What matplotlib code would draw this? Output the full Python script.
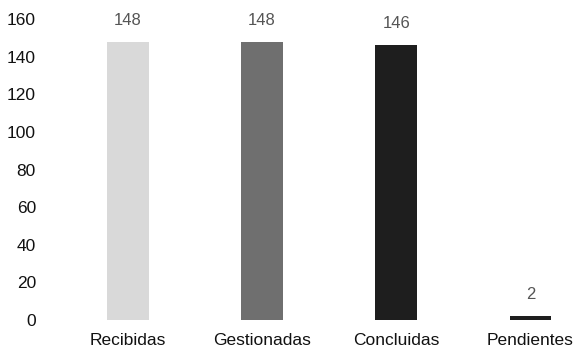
import matplotlib.pyplot as plt

plt.rcParams['font.family'] = ['Liberation Sans', 'DejaVu Sans']

categories = ['Recibidas', 'Gestionadas', 'Concluidas', 'Pendientes']
values = [148, 148, 146, 2]
colors = ['#d9d9d9', '#6f6f6f', '#1e1e1e', '#1e1e1e']
yticks = [0, 20, 40, 60, 80, 100, 120, 140, 160]


def main():
    fig = plt.figure(figsize=(5.84, 3.56), dpi=100)
    ax = fig.add_axes([0.0925, 0.101, 0.9075, 0.8456])
    x = range(len(categories))
    bars = ax.bar(x, values, width=0.31, color=colors)

    for b, v in zip(bars, values):
        ax.annotate(str(v), (b.get_x() + b.get_width() / 2, v),
                    xytext=(0, 10), textcoords='offset points',
                    ha='center', va='bottom', fontsize=12, color='#555555')

    ax.set_xlim(-0.55, 3.4)
    ax.set_ylim(0, 160)
    ax.set_yticks(yticks)
    ax.set_xticks(list(x))
    ax.set_xticklabels(categories)
    ax.tick_params(axis='both', length=0, labelsize=12.5, colors='#111111')
    ax.tick_params(axis='y', pad=13)
    ax.tick_params(axis='x', pad=9)
    for s in ax.spines.values():
        s.set_visible(False)

    fig.savefig('out.png', dpi=100)


if __name__ == '__main__':
    main()
